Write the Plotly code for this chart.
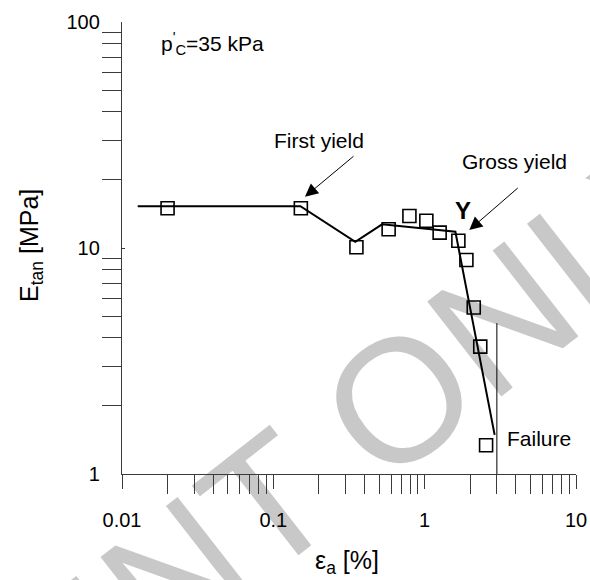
import plotly.graph_objects as go

# Tangent stiffness measurements (axial strain in %, E_tan in MPa)
strain_pct = [0.020, 0.152, 0.354, 0.578, 0.793, 1.026, 1.256, 1.67, 1.887, 2.11, 2.33, 2.546]
e_tan_mpa = [15.0, 15.0, 10.07, 12.1, 13.85, 13.2, 11.7, 10.77, 8.85, 5.45, 3.66, 1.34]

# Interpreted stiffness trend
trend_strain = [0.0127, 0.151, 0.348, 0.523, 1.596, 2.90]
trend_e = [15.3, 15.3, 10.66, 12.73, 11.8, 1.49]

# Strain at failure
failure_strain = [3.0, 3.0]
failure_e = [1.0, 4.65]

x_major = [0.01, 0.1, 1, 10]
x_major_text = ["0.01", "0.1", "1", "10"]
x_minor = [m * 10.0 ** e for e in (-2, -1, 0) for m in range(2, 10)]
y_major = [1, 10, 100]
y_major_text = ["1", "10", "100"]
y_minor = [m * 10.0 ** e for e in (0, 1) for m in range(2, 10)]

W, H = 590, 580
ML, MR, MT, MB = 122, 14, 22, 106
PW, PH = W - ML - MR, H - MT - MB


def px(x):
    return (x - ML) / PW


def py(y):
    return (H - MB - y) / PH


FONT = "Liberation Sans, Arial, sans-serif"
AX = "#3a3a3a"

fig = go.Figure()

fig.add_trace(go.Scatter(
    x=trend_strain, y=trend_e, mode="lines",
    line=dict(color="black", width=2), hoverinfo="skip", showlegend=False,
))
fig.add_trace(go.Scatter(
    x=failure_strain, y=failure_e, mode="lines",
    line=dict(color="black", width=1), cliponaxis=False, showlegend=False,
))
fig.add_trace(go.Scatter(
    x=strain_pct, y=e_tan_mpa, mode="markers",
    marker=dict(symbol="square-open", size=13, color="black",
                line=dict(color="black", width=1.6)),
    showlegend=False,
))

axis_common = dict(
    type="log", showgrid=False, zeroline=False, showline=True, automargin=False,
    linecolor=AX, linewidth=1.3, tickcolor=AX, tickwidth=1.3,
    tickfont=dict(family=FONT, size=20, color="black"),
)

fig.update_xaxes(
    **axis_common, range=[-2, 1],
    tickvals=x_major, ticktext=x_major_text, ticks="outside", ticklen=14,
    minor=dict(tickvals=x_minor, ticks="outside", ticklen=19, tickcolor=AX, tickwidth=1.3),
    ticklabelstandoff=14,
)
fig.update_yaxes(
    **axis_common, range=[0, 2],
    tickvals=y_major, ticktext=y_major_text, ticks="inside", ticklen=3,
    minor=dict(tickvals=y_minor, ticks="outside", ticklen=19, tickcolor=AX, tickwidth=1.3),
    ticklabelstandoff=17,
)

ann_font = dict(family=FONT, size=21, color="black")
annotations = [
    dict(x=px(159), y=py(43), xref="paper", yref="paper", xanchor="left", yanchor="middle",
         text="p<sup>'</sup><sub>C</sub>=35 kPa", showarrow=False, font=ann_font),
    dict(x=px(318.7), y=py(140), xref="paper", yref="paper", xanchor="center", yanchor="middle",
         text="First yield", showarrow=False, font=ann_font),
    dict(x=px(514.4), y=py(161), xref="paper", yref="paper", xanchor="center", yanchor="middle",
         text="Gross yield", showarrow=False, font=ann_font),
    dict(x=px(462.7), y=py(210), xref="paper", yref="paper", xanchor="center", yanchor="middle",
         text="<b>Y</b>", showarrow=False, font=dict(family=FONT, size=24, color="black")),
    dict(x=px(505), y=py(438.3), xref="paper", yref="paper", xanchor="left", yanchor="middle",
         text="Failure", showarrow=False, font=ann_font),
    # arrows pointing at the yield points
    dict(x=px(305), y=py(196.7), xref="paper", yref="paper", ax=50, ay=-41.7,
         showarrow=True, arrowhead=2, arrowsize=2.6, arrowwidth=1, arrowcolor="black", text=""),
    dict(x=px(469.3), y=py(230), xref="paper", yref="paper", ax=50, ay=-43.3,
         showarrow=True, arrowhead=2, arrowsize=2.6, arrowwidth=1, arrowcolor="black", text=""),
    # axis titles
    dict(x=px(312.7), y=py(562), xref="paper", yref="paper", xanchor="left", yanchor="middle",
         text="ε<sub>a</sub> [%]", showarrow=False, font=dict(family=FONT, size=25, color="black")),
    dict(x=px(31), y=py(246), xref="paper", yref="paper", xanchor="center", yanchor="middle",
         text="E<sub>tan</sub> [MPa]", textangle=-90, showarrow=False,
         font=dict(family=FONT, size=25, color="black")),
]

# Diagonal watermark behind the plot
shapes = [dict(
    type="rect", xref="paper", yref="paper",
    x0=px(248), x1=px(338), y0=py(506), y1=py(416),
    line=dict(width=0), fillcolor="rgba(0,0,0,0)", layer="below",
    label=dict(text="PRINT ONLY", textangle=-38, textposition="middle center",
               font=dict(family=FONT, size=175, color="#c8c8c8")),
)]

fig.update_layout(
    width=W, height=H,
    margin=dict(l=ML, r=MR, t=MT, b=MB),
    paper_bgcolor="white", plot_bgcolor="rgba(0,0,0,0)",
    annotations=annotations, shapes=shapes,
    showlegend=False,
)

fig.write_html("out.html")
